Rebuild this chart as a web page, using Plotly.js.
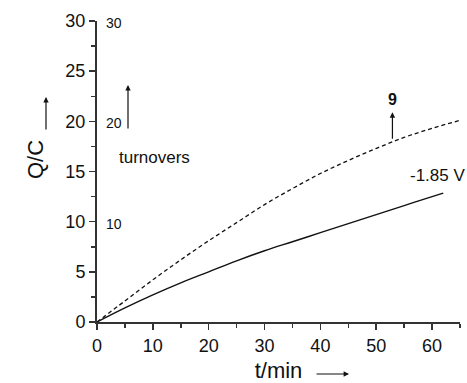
<!DOCTYPE html>
<html>
<head>
<meta charset="utf-8">
<script src="https://cdn.plot.ly/plotly-3.0.1.min.js"></script>
<style>html,body{margin:0;padding:0;background:#fff;}#chart{width:467px;height:383px;}</style>
</head>
<body>
<div id="chart"></div>
<script>
// Data
const tDashed = [0, 5, 10, 15, 20, 25, 30, 35, 40, 45, 50, 55, 60, 65];
const qDashed = [0, 2.1, 4.2, 6.2, 8.1, 9.9, 11.7, 13.3, 14.8, 16.1, 17.3, 18.4, 19.3, 20.1];
const tSolid = [0, 5, 10, 15, 20, 25, 30, 35, 40, 45, 50, 55, 60, 62];
const qSolid = [0, 1.4, 2.7, 3.9, 5.0, 6.1, 7.1, 8.0, 8.9, 9.8, 10.7, 11.6, 12.5, 12.85];
const turnoverTicks = [10, 20, 30];
const turnoverLabels = ['10', '20', '30'];

const FONT = 'Arial, "Liberation Sans", sans-serif';
const W = 363, H = 301, L = 97, T = 21;
function px(x) { return (x - L) / W; }
function py(y) { return (T + H - y) / H; }

const traces = [
  {x: tDashed, y: qDashed, mode: 'lines', name: '9', line: {color: '#111', width: 1.3, dash: '4px,3px', shape: 'spline'}, hoverinfo: 'skip'},
  {x: tSolid, y: qSolid, mode: 'lines', name: '-1.85 V', line: {color: '#111', width: 1.4, shape: 'spline'}, hoverinfo: 'skip'}
];

const annotations = [];
turnoverTicks.forEach((v, i) => {
  annotations.push({xref: 'paper', yref: 'y', x: px(104), y: v, yshift: -2, xanchor: 'left', yanchor: 'middle',
    text: turnoverLabels[i], showarrow: false, font: {family: FONT, size: 14, color: '#111'}});
});
annotations.push(
  {xref: 'paper', yref: 'paper', x: px(117), y: py(157), xanchor: 'left', yanchor: 'middle', text: 'turnovers',
   showarrow: false, font: {family: FONT, size: 17, color: '#111'}},
  {xref: 'paper', yref: 'paper', x: px(128), y: py(85), text: '', showarrow: true, ax: 0, ay: 45,
   arrowhead: 2, arrowsize: 0.9, arrowwidth: 1.2, arrowcolor: '#111'},
  {xref: 'paper', yref: 'paper', x: px(35), y: py(160), text: 'Q/C', textangle: -90, showarrow: false,
   xanchor: 'center', yanchor: 'middle', font: {family: FONT, size: 22, color: '#111'}},
  {xref: 'paper', yref: 'paper', x: px(46), y: py(97), text: '', showarrow: true, ax: 0, ay: 34,
   arrowhead: 2, arrowsize: 0.9, arrowwidth: 1.2, arrowcolor: '#111'},
  {xref: 'paper', yref: 'paper', x: px(349), y: py(374), text: '', showarrow: true, ax: -34, ay: 0,
   arrowhead: 2, arrowsize: 0.9, arrowwidth: 1.2, arrowcolor: '#111'},
  {xref: 'x', yref: 'y', x: 52.9, y: 20.9, text: '', showarrow: true, ax: 0, ay: 28,
   arrowhead: 2, arrowsize: 0.9, arrowwidth: 1.2, arrowcolor: '#111'},
  {xref: 'x', yref: 'y', x: 52.9, y: 22.2, text: '<b>9</b>', showarrow: false, xanchor: 'center', yanchor: 'middle',
   font: {family: FONT, size: 16, color: '#111'}},
  {xref: 'x', yref: 'y', x: 60.9, y: 14.6, text: '-1.85 V', showarrow: false, xanchor: 'center', yanchor: 'middle',
   font: {family: FONT, size: 17, color: '#111'}}
);

const layout = {
  width: 467, height: 383,
  margin: {l: L, r: 467 - L - W, t: T, b: 383 - T - H, pad: 0},
  paper_bgcolor: '#fff', plot_bgcolor: '#fff',
  showlegend: false,
  font: {family: FONT, size: 18, color: '#111'},
  xaxis: {
    range: [0, 65], showgrid: false, zeroline: false,
    showline: true, linecolor: '#333', linewidth: 2,
    ticks: 'outside', ticklen: 6, tickwidth: 1.5, tickcolor: '#333',
    tickvals: [0, 10, 20, 30, 40, 50, 60],
    minor: {tickvals: [5, 15, 25, 35, 45, 55, 65], ticks: 'outside', ticklen: 4, tickwidth: 1.5, tickcolor: '#333'},
    tickfont: {family: FONT, size: 18, color: '#111'},
    title: {text: 't/min', font: {family: FONT, size: 22, color: '#111'}, standoff: 17}
  },
  yaxis: {
    range: [0, 30], showgrid: false, zeroline: false,
    showline: true, linecolor: '#333', linewidth: 2,
    ticks: 'outside', ticklen: 6, tickwidth: 1.5, tickcolor: '#333',
    tickvals: [0, 5, 10, 15, 20, 25, 30],
    minor: {tickvals: [2.5, 7.5, 12.5, 17.5, 22.5, 27.5], ticks: 'outside', ticklen: 4, tickwidth: 1.5, tickcolor: '#333'},
    tickfont: {family: FONT, size: 18, color: '#111'}
  },
  annotations: annotations
};

Plotly.newPlot('chart', traces, layout, {displayModeBar: false, staticPlot: true});
</script>
</body>
</html>
